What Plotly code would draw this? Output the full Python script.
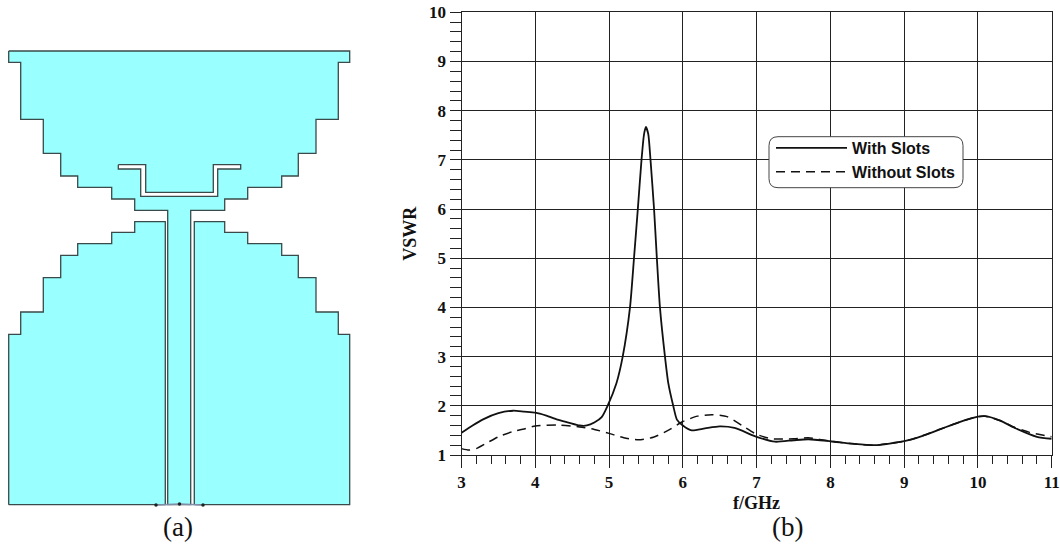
import plotly.graph_objects as go

W, H = 1060, 545
SERIF = "Liberation Serif"
SANS = "Liberation Sans"
INK = "#222222"

# VSWR curves
freq_with = [3.0, 3.15, 3.3, 3.5, 3.7, 3.85, 4.0, 4.15, 4.3, 4.45, 4.6, 4.7, 4.8, 4.9, 4.98, 5.1, 5.185, 5.284,
             5.338, 5.39, 5.44, 5.474, 5.5, 5.532, 5.562, 5.61, 5.648, 5.69, 5.758, 5.803, 5.87, 5.92, 6.0, 6.12,
             6.3, 6.5, 6.7, 7.0, 7.25, 7.5, 7.7, 8.0, 8.3, 8.6, 9.0, 9.25, 9.5, 9.75, 10.0, 10.1, 10.3, 10.5,
             10.8, 11.0]
vswr_with = [1.45, 1.6, 1.73, 1.85, 1.9, 1.88, 1.86, 1.8, 1.72, 1.66, 1.6, 1.6, 1.66, 1.77, 2.0, 2.46, 3.0, 4.0,
             5.0, 6.0, 7.0, 7.52, 7.67, 7.52, 7.0, 6.0, 5.0, 4.0, 3.0, 2.46, 2.0, 1.72, 1.6, 1.5,
             1.54, 1.58, 1.55, 1.37, 1.27, 1.3, 1.32, 1.28, 1.23, 1.2, 1.28, 1.39, 1.53, 1.67, 1.78, 1.79, 1.7, 1.55,
             1.37, 1.33]
freq_without = [3.0, 3.1, 3.2, 3.35, 3.5, 3.7, 3.85, 4.0, 4.3, 4.6, 4.8, 5.0, 5.2, 5.4, 5.6, 5.8, 6.0, 6.2, 6.4,
                6.6, 6.8, 7.0, 7.2, 7.5, 7.7, 8.0, 8.3, 8.6, 9.0, 9.25, 9.5, 9.75, 10.0, 10.1, 10.3, 10.5,
                10.7, 11.0]
vswr_without = [1.13, 1.1, 1.13, 1.25, 1.37, 1.48, 1.53, 1.59, 1.61, 1.57, 1.52, 1.44, 1.35, 1.31, 1.36, 1.5, 1.68, 1.79, 1.82,
                1.78, 1.6, 1.42, 1.33, 1.33, 1.35, 1.28, 1.23, 1.2, 1.28, 1.39, 1.53, 1.67, 1.78, 1.79, 1.7, 1.56,
                1.46, 1.37]

# antenna outline, drawing units
upper_x = [8.7, 8.7, 20.7, 20.7, 43.3, 43.3, 60.7, 60.7, 77.7, 77.7, 111.7, 111.7, 134.7, 134.7, 167.7, 167.7,
           190.7, 190.7, 224.7, 224.7, 247.7, 247.7, 281.7, 281.7, 298.3, 298.3, 316, 316, 338.3, 338.3, 349.7, 349.7, 8.7]
upper_y = [51, 62.3, 62.3, 119.3, 119.3, 153.3, 153.3, 176, 176, 187.3, 187.3, 199, 199, 210.3, 210.3, 504.7,
           504.7, 210.3, 210.3, 199, 199, 187.3, 187.3, 176, 176, 153.3, 153.3, 119.3, 119.3, 62.3, 62.3, 51, 51]
slot_x = [118.3, 145.7, 145.7, 213.3, 213.3, 240.7, 240.7, 217.7, 217.7, 140.7, 140.7, 118.3, 118.3]
slot_y = [164.7, 164.7, 192.3, 192.3, 164.7, 164.7, 169, 169, 196.3, 196.3, 169, 169, 164.7]
left_x = [8.7, 8.7, 20.7, 20.7, 43.3, 43.3, 60.7, 60.7, 77.7, 77.7, 111.7, 111.7, 134.7, 134.7, 165.3, 165.3, 8.7]
left_y = [504.7, 334.3, 334.3, 312, 312, 277.7, 277.7, 255.3, 255.3, 243.7, 243.7, 232.3, 232.3, 221.7, 221.7, 504.7, 504.7]
right_x = [194.3, 194.3, 224.7, 224.7, 247.7, 247.7, 281.7, 281.7, 298.3, 298.3, 316, 316, 338.3, 338.3, 349.7, 349.7, 194.3]
right_y = [504.7, 221.7, 221.7, 232.3, 232.3, 243.7, 243.7, 255.3, 255.3, 277.7, 277.7, 312, 312, 334.3, 334.3, 504.7, 504.7]
port_x = [156, 179.5, 203]
port_y = [505, 504, 505]

y_ticks = list(range(1, 11))
x_ticks = list(range(3, 12))

fig = go.Figure()

for px, py, fill in [(upper_x, upper_y, "#99FFFF"), (left_x, left_y, "#99FFFF"),
                     (right_x, right_y, "#99FFFF"), (slot_x, slot_y, "#FFFFFF")]:
    fig.add_trace(go.Scatter(x=px, y=py, xaxis="x2", yaxis="y2", mode="lines", fill="toself", fillcolor=fill,
                             line=dict(color="#3A4A4A", width=1.3), showlegend=False, hoverinfo="skip"))
fig.add_trace(go.Scatter(x=port_x, y=port_y, xaxis="x2", yaxis="y2", mode="lines+markers",
                         line=dict(color="#7F8FA8", width=1.5), marker=dict(size=3.5, color="#222222"),
                         showlegend=False, hoverinfo="skip"))

fig.add_trace(go.Scatter(x=freq_with, y=vswr_with, mode="lines", name="<b>With Slots</b>", line_shape="spline",
                         line=dict(color="#111111", width=1.8, smoothing=0.6)))
fig.add_trace(go.Scatter(x=freq_without, y=vswr_without, mode="lines", name="<b>Without Slots</b>", line_shape="spline",
                         line=dict(color="#111111", width=1.5, dash="9px,6px", smoothing=0.6)))

axis_font = dict(family=SERIF, size=17, color="#111111")
title_font = dict(family=SERIF, size=18, color="#111111")

fig.update_layout(
    width=W, height=H, margin=dict(l=0, r=0, t=0, b=0, autoexpand=False), paper_bgcolor="white", plot_bgcolor="rgba(0,0,0,0)",
    font=dict(family=SERIF),
    xaxis=dict(domain=[461.5 / W, 1051.7 / W], range=[3, 11], tickvals=x_ticks, ticktext=[f"<b>{v}</b>" for v in x_ticks],
               ticks="outside", ticklen=12, tickcolor=INK, tickwidth=1, tickfont=axis_font,
               showgrid=True, gridcolor=INK, gridwidth=1, showline=True, linecolor=INK, linewidth=1, mirror=True,
               zeroline=False,
               minor=dict(dtick=0.2, tick0=3, ticks="outside", ticklen=8, tickcolor=INK, tickwidth=1, showgrid=False),
               title=dict(text="<b>f/GHz</b>", font=title_font, standoff=4)),
    yaxis=dict(domain=[1 - 455 / H, 1 - 12.3 / H], range=[1, 10], tickvals=y_ticks, ticktext=[f"<b>{v}</b>" for v in y_ticks],
               ticks="outside", ticklen=11, tickcolor=INK, tickwidth=1, tickfont=axis_font,
               showgrid=True, gridcolor=INK, gridwidth=1, showline=True, linecolor=INK, linewidth=1, mirror=True,
               zeroline=False,
               minor=dict(dtick=0.2, tick0=1, ticks="outside", ticklen=11, tickcolor=INK, tickwidth=1, showgrid=False),
               title=dict(text="<b>VSWR</b>", font=title_font, standoff=7)),
    xaxis2=dict(domain=[0, 360 / W], range=[0, 360], visible=False, anchor="y2"),
    yaxis2=dict(domain=[0, 1], range=[H, 0], visible=False, anchor="x2"),
    legend=dict(x=771 / W, y=1 - 131 / H, xanchor="left", yanchor="top", bgcolor="rgba(0,0,0,0)", borderwidth=0,
                itemwidth=71, font=dict(family=SANS, size=16, color="#111111"), itemclick=False),
    annotations=[
        dict(text="(a)", x=178, y=527, xref="x2", yref="y2", showarrow=False, xanchor="center", yanchor="middle",
             font=dict(family=SERIF, size=27, color="#111111")),
        dict(text="(b)", x=788 / W, y=1 - 527 / H, xref="paper", yref="paper", showarrow=False, xanchor="center", yanchor="middle",
             font=dict(family=SERIF, size=27, color="#111111")),
    ],
)

# rounded legend frame, in page fractions
x0, x1, y0, y1, r = 769 / W, 963 / W, 1 - 187.7 / H, 1 - 136.7 / H, 9
rx, ry = r / W, r / H
frame = (f"M {x0+rx} {y1} L {x1-rx} {y1} Q {x1} {y1} {x1} {y1-ry} L {x1} {y0+ry} Q {x1} {y0} {x1-rx} {y0} "
         f"L {x0+rx} {y0} Q {x0} {y0} {x0} {y0+ry} L {x0} {y1-ry} Q {x0} {y1} {x0+rx} {y1} Z")
fig.add_shape(type="path", path=frame, xref="paper", yref="paper", fillcolor="white",
              line=dict(color="#444444", width=1), layer="above")

fig.write_html("out.html", post_script="document.body.style.margin='0';", config={"displayModeBar": False})
